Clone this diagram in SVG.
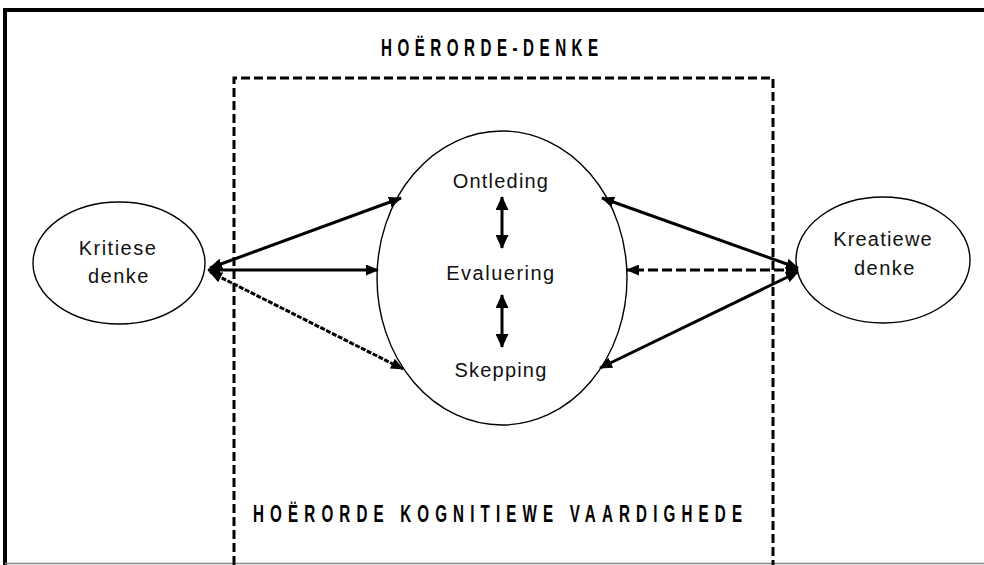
<svg xmlns="http://www.w3.org/2000/svg" width="984" height="565" viewBox="0 0 984 565">
<style>
.bg{fill:#fff}
.frame{fill:none;stroke:#000;stroke-width:4}
.dash{fill:none;stroke:#000;stroke-width:3;stroke-dasharray:9 4}
.node{fill:#fff;stroke:#000;stroke-width:1.4}
.lbl{font-family:"Liberation Sans",Arial,sans-serif;font-size:20px;fill:#111;text-anchor:middle}
.ttl{font-family:"Liberation Sans",Arial,sans-serif;font-size:23px;font-weight:bold;fill:#000}
.c{fill:none;stroke:#000;stroke-width:3}
.ar{marker-start:url(#ah);marker-end:url(#ah)}
</style>
<defs>
<marker id="ah" viewBox="0 0 13 11" refX="12" refY="5.5" markerWidth="13" markerHeight="11" markerUnits="userSpaceOnUse" orient="auto-start-reverse">
<path d="M0,0 L13,5.5 L0,11 Z" fill="#000"/>
</marker>
<marker id="bh" viewBox="0 0 14 13" refX="13" refY="6.5" markerWidth="14" markerHeight="13" markerUnits="userSpaceOnUse" orient="auto-start-reverse">
<path d="M0,0 L14,6.5 L0,13 Z" fill="#000"/>
</marker>
</defs>
<rect class="bg" x="0" y="0" width="984" height="565"/>
<g id="frame">
<path class="frame" d="M5,565 V10 H984"/>
<line x1="5" y1="563.5" x2="984" y2="563.5" stroke="#888" stroke-width="1.5"/>
</g>
<g id="box">
<path class="dash" d="M234,565 V78 H773 V565"/>
</g>
<g id="title"><text class="ttl" transform="translate(381,56) scale(0.66,1)" x="0" y="0" textLength="329" lengthAdjust="spacing">HOËRORDE-DENKE</text></g>
<g id="bottom-title"><text class="ttl" transform="translate(253,522) scale(0.66,1)" x="0" y="0" textLength="741" lengthAdjust="spacing">HOËRORDE KOGNITIEWE VAARDIGHEDE</text></g>
<g id="center">
<ellipse class="node" cx="502" cy="278" rx="125" ry="147"/>
<text class="lbl" x="501" y="188" letter-spacing="1.2">Ontleding</text>
<text class="lbl" x="501" y="280" letter-spacing="1.5">Evaluering</text>
<text class="lbl" x="501" y="377" letter-spacing="1.2">Skepping</text>
</g>
<g id="kritiese">
<ellipse class="node" cx="119" cy="263" rx="86" ry="61"/>
<text class="lbl" x="118" y="255" letter-spacing="1.5">Kritiese</text>
<text class="lbl" x="119" y="283" letter-spacing="1.5">denke</text>
</g>
<g id="kreatiewe">
<ellipse class="node" cx="883" cy="260" rx="87" ry="63"/>
<text class="lbl" x="883" y="246" letter-spacing="1.2">Kreatiewe</text>
<text class="lbl" x="885" y="275" letter-spacing="1.5">denke</text>
</g>
<g id="connectors">
<line class="c ar" x1="210" y1="268" x2="401" y2="198"/>
<line class="c ar" x1="208" y1="270" x2="378" y2="270"/>
<line class="c ar" x1="210" y1="272" x2="403" y2="369" stroke-dasharray="5 1.5"/>
<line class="c ar" x1="798" y1="268" x2="602" y2="198"/>
<line class="c ar" x1="798" y1="270" x2="627" y2="270" stroke-dasharray="10 4"/>
<line class="c ar" x1="798" y1="272" x2="600" y2="368"/>
<line class="c" x1="502" y1="197" x2="502" y2="248" marker-start="url(#bh)" marker-end="url(#bh)"/>
<line class="c" x1="502" y1="295" x2="502" y2="347" marker-start="url(#bh)" marker-end="url(#bh)"/>
</g>
</svg>
